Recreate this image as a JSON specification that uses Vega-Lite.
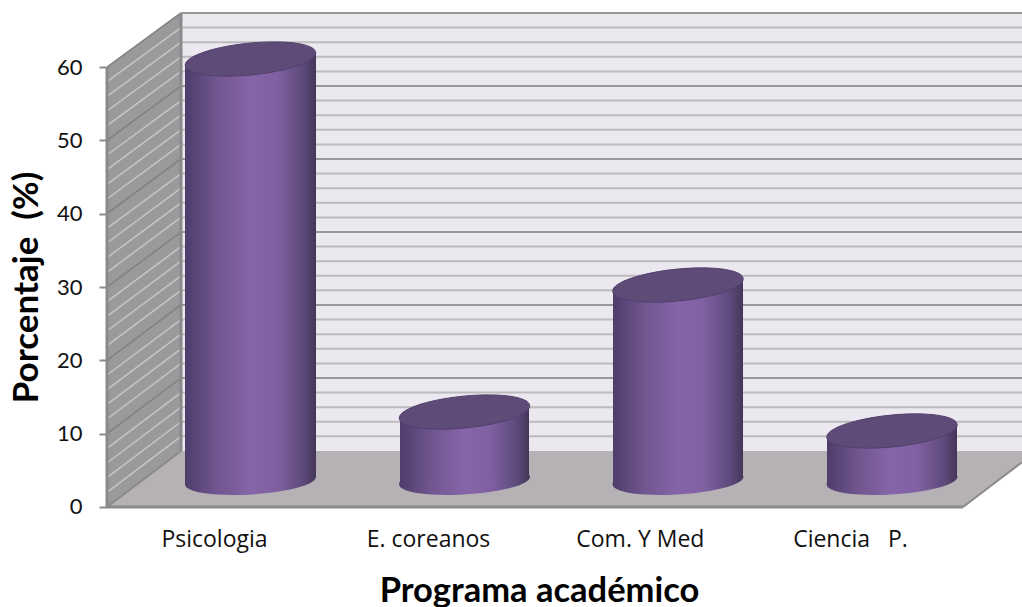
{
"$schema":"https://vega.github.io/schema/vega-lite/v6.json",
"width":1022,"height":607,"padding":0,"autosize":{"type":"none"},
"background":"white",
"config":{"view":{"stroke":null},"font":"Lato"},
"datasets":{
"programas":[
{"programa":"Psicologia","porcentaje":57.7,"centro":1.1706,"cima":61.09,"base":3.61},
{"programa":"E. coreanos","porcentaje":9.5,"centro":2.1706,"cima":12.95,"base":3.61},
{"programa":"Com. Y Med","porcentaje":26.9,"centro":3.1682,"cima":30.27,"base":3.61},
{"programa":"Ciencia P.","porcentaje":7.0,"centro":4.1682,"cima":10.36,"base":3.61}],
"cuerpos":[
{"programa":"Psicologia","x":0.8645,"cima":60.27,"base":3.0},
{"programa":"Psicologia","x":1.4766,"cima":62.05,"base":4.09},
{"programa":"E. coreanos","x":1.8692,"cima":12.07,"base":3.0},
{"programa":"E. coreanos","x":2.472,"cima":13.84,"base":4.09},
{"programa":"Com. Y Med","x":2.8645,"cima":29.38,"base":3.0},
{"programa":"Com. Y Med","x":3.472,"cima":31.16,"base":4.09},
{"programa":"Ciencia P.","x":3.8645,"cima":9.48,"base":3.0},
{"programa":"Ciencia P.","x":4.472,"cima":11.25,"base":4.09}],
"rejilla":[
{"nivel":2,"frente":2,"fondo":9.63,"mayor":false},{"nivel":4,"frente":4,"fondo":11.62,"mayor":false},
{"nivel":6,"frente":6,"fondo":13.61,"mayor":false},{"nivel":8,"frente":8,"fondo":15.6,"mayor":false},
{"nivel":10,"frente":10,"fondo":17.59,"mayor":true},{"nivel":12,"frente":12,"fondo":19.58,"mayor":false},
{"nivel":14,"frente":14,"fondo":21.57,"mayor":false},{"nivel":16,"frente":16,"fondo":23.56,"mayor":false},
{"nivel":18,"frente":18,"fondo":25.56,"mayor":false},{"nivel":20,"frente":20,"fondo":27.55,"mayor":true},
{"nivel":22,"frente":22,"fondo":29.54,"mayor":false},{"nivel":24,"frente":24,"fondo":31.53,"mayor":false},
{"nivel":26,"frente":26,"fondo":33.52,"mayor":false},{"nivel":28,"frente":28,"fondo":35.51,"mayor":false},
{"nivel":30,"frente":30,"fondo":37.5,"mayor":true},{"nivel":32,"frente":32,"fondo":39.49,"mayor":false},
{"nivel":34,"frente":34,"fondo":41.48,"mayor":false},{"nivel":36,"frente":36,"fondo":43.48,"mayor":false},
{"nivel":38,"frente":38,"fondo":45.47,"mayor":false},{"nivel":40,"frente":40,"fondo":47.46,"mayor":true},
{"nivel":42,"frente":42,"fondo":49.45,"mayor":false},{"nivel":44,"frente":44,"fondo":51.44,"mayor":false},
{"nivel":46,"frente":46,"fondo":53.43,"mayor":false},{"nivel":48,"frente":48,"fondo":55.42,"mayor":false},
{"nivel":50,"frente":50,"fondo":57.41,"mayor":true},{"nivel":52,"frente":52,"fondo":59.4,"mayor":false},
{"nivel":54,"frente":54,"fondo":61.39,"mayor":false},{"nivel":56,"frente":56,"fondo":63.39,"mayor":false},
{"nivel":58,"frente":58,"fondo":65.38,"mayor":false},{"nivel":60,"frente":60,"fondo":67.37,"mayor":true}],
"paredLateral":[{"x":0.5,"alto":60,"bajo":0},{"x":0.8458,"alto":67.37,"bajo":7.64}],
"suelo":[{"x":0.5,"alto":0,"bajo":0},{"x":0.8458,"alto":7.64,"bajo":0},{"x":4.5,"alto":7.64,"bajo":0},{"x":4.7757,"alto":7.64,"bajo":6.1}]
},
"layer":[
{"data":{"values":[{"x":0.8458,"x2":4.7757,"alto":67.37,"bajo":7.64}]},
 "mark":{"type":"rect","color":"#ebe8f0"},
 "encoding":{
  "x":{"field":"x","type":"quantitative","scale":{"domain":[0,4.7757],"range":[0,1022],"nice":false,"zero":false},
   "axis":{"values":[1,2,2.99,3.972],"labelExpr":"datum.value<1.5?'Psicologia':datum.value<2.5?'E. coreanos':datum.value<3.5?'Com. Y Med':'Ciencia\u00a0\u00a0\u00a0P.'","offset":-100,"domain":false,"ticks":false,"grid":false,"labelPadding":21,"labelFontSize":23,"labelFont":"Open Sans","labelColor":"#111111","labelOverlap":false,"labelFlush":false,"title":"Programa académico","titleFont":"Lato","titleFontSize":34.5,"titleFontWeight":"bold","titleColor":"#000000","titleX":539,"titleY":94,"titleBaseline":"alphabetic"}},
  "x2":{"field":"x2"},
  "y":{"field":"alto","type":"quantitative","scale":{"domain":[-13.64,69.14],"range":[607,0],"nice":false,"zero":false},
   "axis":{"values":[0,10,20,30,40,50,60],"offset":-107,"domain":false,"tickSize":8,"tickColor":"#8a8a8a","tickWidth":2,"grid":false,"labelPadding":17,"labelFontSize":22,"labelFont":"Lato","labelColor":"#111111","title":"Porcentaje\u00a0\u00a0(%)","titleFont":"Lato","titleFontSize":35,"titleFontWeight":"bold","titleColor":"#000000","titleX":-70,"titleY":287,"titleAngle":270,"titleBaseline":"alphabetic"}},
  "y2":{"field":"bajo"}}},
{"data":{"name":"rejilla"},"mark":{"type":"rule","strokeWidth":2},
 "encoding":{"x":{"datum":0.8458,"type":"quantitative"},"x2":{"datum":4.7757},"y":{"field":"fondo","type":"quantitative"},
  "color":{"condition":{"test":"datum.mayor","value":"#999999"},"value":"#bcbbbd"}}},
{"data":{"name":"paredLateral"},"mark":{"type":"area","color":"#9a999c"},
 "encoding":{"x":{"field":"x","type":"quantitative"},"y":{"field":"alto","type":"quantitative"},"y2":{"field":"bajo"}}},
{"data":{"name":"rejilla"},"mark":{"type":"rule","strokeWidth":1.5},
 "encoding":{"x":{"datum":0.5,"type":"quantitative"},"x2":{"datum":0.8458},"y":{"field":"frente","type":"quantitative"},"y2":{"field":"fondo"},
  "color":{"condition":{"test":"datum.mayor","value":"#808080"},"value":"#c6c5c7"}}},
{"data":{"name":"suelo"},"mark":{"type":"area","color":"#b5b1b4"},
 "encoding":{"x":{"field":"x","type":"quantitative"},"y":{"field":"alto","type":"quantitative"},"y2":{"field":"bajo"}}},
{"data":{"values":[{"x":0.5,"x2":0.8458,"y":0,"y2":7.64},{"x":4.5,"x2":4.7757,"y":0,"y2":6.1}]},"mark":{"type":"rule","strokeWidth":2,"color":"#8a8a8a"},
 "encoding":{"x":{"field":"x","type":"quantitative"},"x2":{"field":"x2"},"y":{"field":"y","type":"quantitative"},"y2":{"field":"y2"}}},
{"data":{"values":[{"x":0.5,"x2":4.5,"y":0,"y2":0},{"x":0.5,"x2":0.5,"y":0,"y2":60},{"x":0.8458,"x2":0.8458,"y":7.64,"y2":67.37}]},"mark":{"type":"rule","strokeWidth":3,"color":"#8a8a8a"},
 "encoding":{"x":{"field":"x","type":"quantitative"},"x2":{"field":"x2"},"y":{"field":"y","type":"quantitative"},"y2":{"field":"y2"}}},
{"data":{"name":"programas"},"mark":{"type":"point","filled":true,"opacity":1,"shape":"M-0.998,0.061A1,0.21,-3.5,1,1,0.998,-0.061A1,0.21,-3.5,1,1,-0.998,0.061Z","size":17161,
  "fill":{"gradient":"linear","x1":0,"y1":0,"x2":1,"y2":0,"stops":[{"offset":0,"color":"#4e3d6b"},{"offset":0.25,"color":"#715690"},{"offset":0.5,"color":"#8565a8"},{"offset":0.7,"color":"#7f60a1"},{"offset":0.9,"color":"#5e4a7c"},{"offset":1,"color":"#443658"}]}},
 "encoding":{"x":{"field":"centro","type":"quantitative"},"y":{"field":"base","type":"quantitative"}}},
{"data":{"name":"cuerpos"},"mark":{"type":"area",
  "fill":{"gradient":"linear","x1":0,"y1":0,"x2":1,"y2":0,"stops":[{"offset":0,"color":"#4e3d6b"},{"offset":0.25,"color":"#715690"},{"offset":0.5,"color":"#8565a8"},{"offset":0.7,"color":"#7f60a1"},{"offset":0.9,"color":"#5e4a7c"},{"offset":1,"color":"#443658"}]}},
 "encoding":{"x":{"field":"x","type":"quantitative"},"y":{"field":"cima","type":"quantitative"},"y2":{"field":"base"},"detail":{"field":"programa"}}},
{"data":{"name":"programas"},"mark":{"type":"point","filled":true,"opacity":1,"fill":"#5f4b78","stroke":"#523f6b","strokeWidth":1,"shape":"M-0.995,0.099A1,0.24,-5.7,1,1,0.995,-0.099A1,0.24,-5.7,1,1,-0.995,0.099Z","size":17161},
 "encoding":{"x":{"field":"centro","type":"quantitative"},"y":{"field":"cima","type":"quantitative"}}}
]
}
